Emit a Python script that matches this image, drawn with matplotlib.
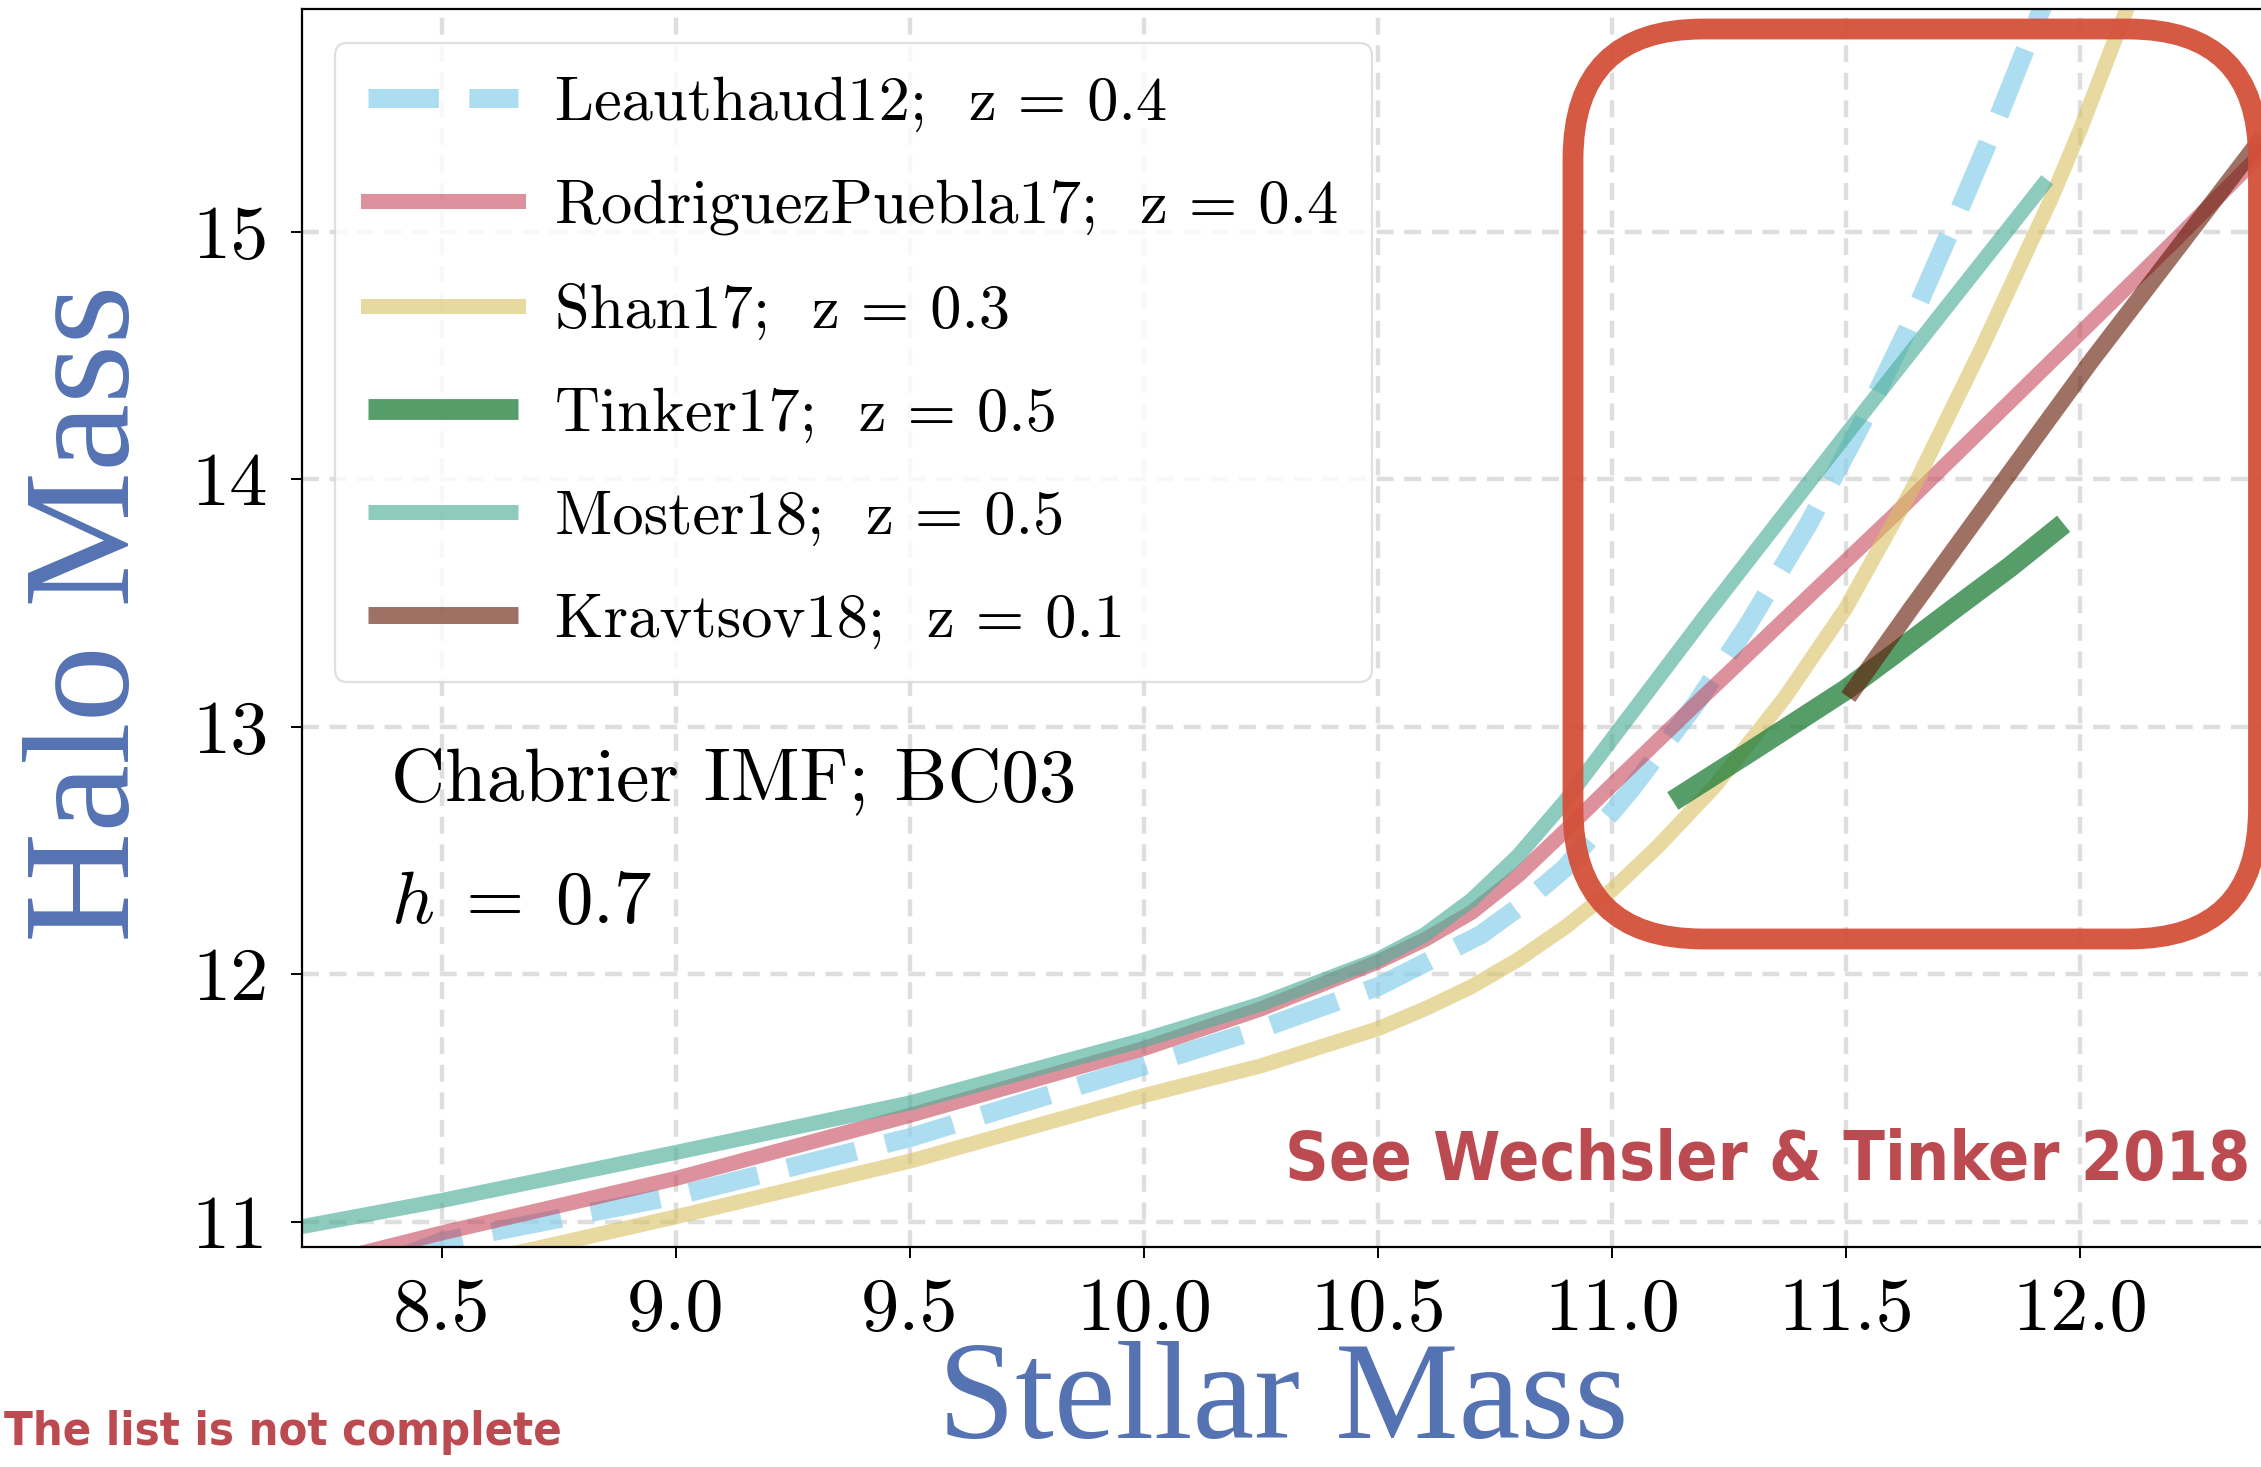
import numpy as np
import matplotlib

matplotlib.use("Agg")
import matplotlib.pyplot as plt
from matplotlib import font_manager
from matplotlib.font_manager import FontProperties
from matplotlib.patches import FancyBboxPatch
from matplotlib.ticker import FixedLocator, FormatStrFormatter

# stellar mass -> halo mass relations
leauthaud_x = [8.40, 8.5, 9.0, 9.5, 10.0, 10.25, 10.5, 10.72, 10.8, 10.9, 11.04, 11.18, 11.29,
               11.42, 11.53, 11.63, 11.72, 11.81, 11.89, 11.95]
leauthaud_y = [10.85, 10.92, 11.105, 11.34, 11.63, 11.78, 11.95, 12.16, 12.27, 12.43, 12.745,
               13.095, 13.41, 13.82, 14.21, 14.60, 14.99, 15.39, 15.77, 16.05]

rp_x = [8.30, 8.5, 9.0, 9.5, 10.0, 10.25, 10.5, 10.6, 10.7, 10.8, 10.9, 11.0, 11.2, 11.4,
        11.6, 11.8, 12.0, 12.2, 12.4, 12.6]
rp_y = [10.86, 10.955, 11.175, 11.43, 11.70, 11.86, 12.05, 12.14, 12.25, 12.40, 12.58, 12.765,
        13.13, 13.49, 13.85, 14.22, 14.59, 14.96, 15.34, 15.72]

shan_x = [8.60, 8.72, 9.0, 9.5, 10.0, 10.25, 10.5, 10.6, 10.7, 10.8, 10.9, 11.0, 11.1, 11.22,
          11.37, 11.5, 11.65, 11.79, 11.94, 12.0, 12.1, 12.15]
shan_y = [10.85, 10.90, 11.02, 11.245, 11.51, 11.63, 11.78, 11.86, 11.95, 12.06, 12.19, 12.34,
          12.52, 12.76, 13.12, 13.48, 13.99, 14.53, 15.14, 15.41, 15.90, 16.2]

tinker_x = [11.13, 11.3, 11.5, 11.6, 11.74, 11.85, 11.965]
tinker_y = [12.70, 12.905, 13.15, 13.29, 13.49, 13.645, 13.82]

moster_x = [8.1, 8.2, 8.5, 9.0, 9.5, 10.0, 10.25, 10.5, 10.6, 10.7, 10.8, 10.9, 11.0, 11.2,
            11.5, 11.7, 11.93]
moster_y = [10.94, 10.98, 11.086, 11.28, 11.48, 11.735, 11.88, 12.06, 12.16, 12.30, 12.48,
            12.70, 12.95, 13.45, 14.18, 14.66, 15.21]

kravtsov_x = [11.505, 11.64, 11.936, 12.021, 12.381, 12.5]
kravtsov_y = [13.12, 13.48, 14.25, 14.47, 15.36, 15.66]

labels = [
    "Leauthaud12;  z = 0.4",
    "RodriguezPuebla17;  z = 0.4",
    "Shan17;  z = 0.3",
    "Tinker17;  z = 0.5",
    "Moster18;  z = 0.5",
    "Kravtsov18;  z = 0.1",
]
x_ticks = [8.5, 9.0, 9.5, 10.0, 10.5, 11.0, 11.5, 12.0]
y_ticks = [11, 12, 13, 14, 15]

plt.rcParams["font.family"] = "cmr10"
plt.rcParams["mathtext.fontset"] = "cm"
plt.rcParams["axes.formatter.use_mathtext"] = True


def find_red_font():
    # a narrow bold sans if there is one, otherwise the narrowest usual bold sans
    stretches = ("condensed", "semi-condensed", "extra-condensed", "ultra-condensed")
    best = None
    for f in font_manager.fontManager.ttflist:
        w = f.weight if isinstance(f.weight, int) else font_manager.weight_dict.get(f.weight, 400)
        narrow = f.stretch in stretches or "Narrow" in f.name or "Condensed" in f.name
        if not narrow or w < 600 or f.style != "normal" or "Mono" in f.name:
            continue
        score = abs(w - 700) + (0 if "Sans" in f.name or "Roboto" in f.name else 50)
        if best is None or score < best[0]:
            best = (score, f.fname)
    if best:
        return FontProperties(fname=best[1])
    names = {f.name for f in font_manager.fontManager.ttflist}
    for fam in ("Roboto", "Liberation Sans", "Lato"):
        if fam in names:
            return FontProperties(family=fam, weight="bold")
    return FontProperties(family="DejaVu Sans", weight="bold")


red_font = find_red_font()

W, H = 2261, 1467
fig = plt.figure(figsize=(W / 100, H / 100), dpi=100)
ax = fig.add_axes([301.6 / W, (H - 1246.5) / H, 2012.4 / W, 1237.5 / H])
ax.set_xlim(8.2, 12.5)
ax.set_ylim(10.9, 15.9)

ax.plot(leauthaud_x, leauthaud_y, ls="--", lw=13.7, color="#87CEEB", alpha=0.68,
        label=labels[0])
ax.plot(rp_x, rp_y, lw=10.8, color="#C5485C", alpha=0.6, label=labels[1])
ax.plot(shan_x, shan_y, lw=10.8, color="#D9C161", alpha=0.6, label=labels[2])
ax.plot(tinker_x, tinker_y, lw=15, color="#1E7D37", alpha=0.75, label=labels[3],
        solid_capstyle="butt")
ax.plot(moster_x, moster_y, lw=10.8, color="#50AF9B", alpha=0.65, label=labels[4],
        solid_capstyle="butt")
ax.plot(kravtsov_x, kravtsov_y, lw=12.2, color="#641905", alpha=0.62, label=labels[5],
        solid_capstyle="butt")

ax.grid(True, color="#DEDEDE", linestyle=(0, (3.8, 2.4)), linewidth=3.2)
ax.xaxis.set_major_locator(FixedLocator(x_ticks))
ax.yaxis.set_major_locator(FixedLocator(y_ticks))
ax.xaxis.set_major_formatter(FormatStrFormatter("%.1f"))
ax.yaxis.set_major_formatter(FormatStrFormatter("%d"))
ax.tick_params(axis="both", labelsize=55, length=8, width=1.4, direction="out")
ax.tick_params(axis="x", pad=14)
ax.tick_params(axis="y", pad=16)
for sp in ax.spines.values():
    sp.set_linewidth(1.6)
    sp.set_color("black")

leg = ax.legend(
    loc="upper left",
    bbox_to_anchor=(334.5 / W, 1 - 43 / H),
    bbox_transform=fig.transFigure,
    borderaxespad=0,
    fontsize=45,
    handlelength=2.4,
    handletextpad=0.6,
    borderpad=0.53,
    labelspacing=0.755,
    framealpha=0.8,
    fancybox=True,
)
leg.get_frame().set_edgecolor("#D8D8D8")
leg.get_frame().set_linewidth(1.6)

fig.text(391 / W, (H - 800) / H, "Chabrier IMF; BC03", fontsize=54, va="baseline")
fig.text(391 / W, (H - 923) / H, r"$h\;=\;0.7$", fontsize=54, va="baseline")

see = fig.text(1285 / W, (H - 1180) / H, "See Wechsler & Tinker 2018",
               fontproperties=red_font, fontsize=64, color="#BC4B51", va="baseline")
note = fig.text(4 / W, (H - 1445) / H, "The list is not complete",
                fontproperties=red_font, fontsize=46, color="#BC4B51", va="baseline")

fig.text(1283 / W, (H - 1438) / H, "Stellar Mass", family="Liberation Serif",
         fontsize=100, color="#5573B3", ha="center", va="baseline")
fig.text(92 / W, (H - 613) / H, "Halo Mass", family="Liberation Serif",
         fontsize=110, color="#5573B3", ha="center", va="center", rotation=90)

# fit the two red notes to the widths they take in the slide
renderer = fig.canvas.get_renderer()
for t, width in ((see, 2250 - 1285), (note, 562 - 4)):
    for _ in range(2):
        bb = t.get_window_extent(renderer=renderer)
        t.set_fontsize(t.get_fontsize() * width / bb.width)

box = FancyBboxPatch((15.73, 5.28), 6.855, 9.10, boxstyle="round,pad=0,rounding_size=1.3",
                     transform=fig.dpi_scale_trans, fill=False, edgecolor="#D4503A",
                     linewidth=15, alpha=0.95, zorder=10)
fig.add_artist(box)

fig.savefig("out.png", dpi=100)
